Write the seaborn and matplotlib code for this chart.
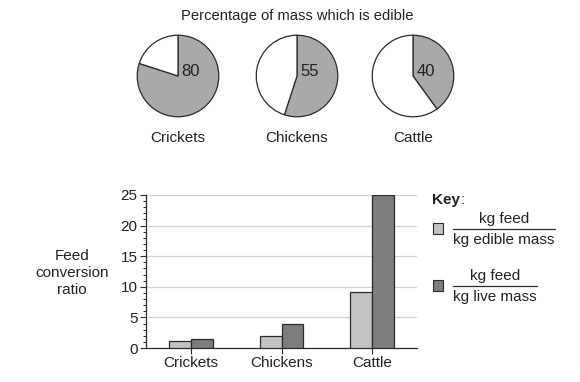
import pandas as pd
import seaborn as sns
from matplotlib import pyplot as plt
from matplotlib.patches import Rectangle
from matplotlib.ticker import MultipleLocator

animals = ["Crickets", "Chickens", "Cattle"]
edible_pct = [80, 55, 40]
ratio_edible = [1.2, 2.0, 9.2]
ratio_live = [1.5, 4.0, 25.0]
series = ["edible", "live"]

light = "#c2c2c6"
dark = "#7c7c80"
pie_grey = "#a9a9ab"
edge = "#2a2a2a"
txt = "#222222"

sns.set_style("white")
plt.rcParams["font.family"] = ["Liberation Sans", "DejaVu Sans"]
plt.rcParams["font.size"] = 11

W, H = 580, 382
fig = plt.figure(figsize=(W / 100, H / 100), dpi=100)

def fx(px):
    return px / W

def fy(py):
    return 1 - py / H

# pies
fig.text(fx(297), fy(16), "Percentage of mass which is edible", ha="center", va="center", fontsize=10.6, color=txt)
centres = [178, 297, 413]
r = 41
for cx, name, pct in zip(centres, animals, edible_pct):
    ax = fig.add_axes([fx(cx - r - 1), fy(76 + r + 1), fx(2 * r + 2), (2 * r + 2) / H])
    ax.pie([pct, 100 - pct], colors=[pie_grey, "white"], startangle=90, counterclock=False,
           wedgeprops=dict(edgecolor=edge, linewidth=0.9))
    ax.set_xlim(-1.03, 1.03)
    ax.set_ylim(-1.03, 1.03)
    ax.text(0.08, 0.1, str(pct), ha="left", va="center", fontsize=12, color=txt)
    fig.text(fx(cx), fy(138), name, ha="center", va="center", fontsize=11, color=txt)

# bars
df = pd.DataFrame({
    "animal": animals * 2,
    "kind": [series[0]] * 3 + [series[1]] * 3,
    "ratio": ratio_edible + ratio_live,
})
bx = fig.add_axes([fx(146), fy(348), fx(417 - 146), (348 - 195) / H])
sns.barplot(data=df, x="animal", y="ratio", hue="kind", palette=[light, dark], width=0.48,
            edgecolor=edge, linewidth=0.9, ax=bx, legend=False, zorder=3)
bx.set_ylim(0, 25)
bx.set_xlim(-0.5, 2.5)
bx.yaxis.set_major_locator(MultipleLocator(5))
bx.yaxis.set_minor_locator(MultipleLocator(1))
bx.grid(axis="y", color="#d2d2d2", linewidth=0.9, zorder=0)
bx.set_axisbelow(True)
for s in ["top", "right"]:
    bx.spines[s].set_visible(False)
for s in ["left", "bottom"]:
    bx.spines[s].set_color(edge)
    bx.spines[s].set_linewidth(0.9)
bx.tick_params(axis="y", which="major", direction="out", length=4, width=0.8, color=edge, left=True,
               labelsize=11, pad=2, labelcolor=txt)
bx.tick_params(axis="y", which="minor", direction="out", length=2, width=0.7, color=edge, left=True)
bx.tick_params(axis="x", direction="out", length=4, width=0.8, color=edge, bottom=True,
               labelsize=11, pad=2, labelcolor=txt)
bx.set_xlabel("")
bx.set_ylabel("")
fig.text(fx(72), fy(273), "Feed\nconversion\nratio", ha="center", va="center", fontsize=11, linespacing=1.25, color=txt)

# key
key = fig.text(fx(432), fy(200), "Key", ha="left", va="center", fontsize=11, fontweight="bold", color=txt)
fig.add_artist(plt.Annotation(":", xy=(1, 0.5), xycoords=key, xytext=(0.5, 0), textcoords="offset points",
                              ha="left", va="center", fontsize=11, color=txt))
for yy, col, bottom_txt, x1 in [(229, light, "kg edible mass", 555), (286, dark, "kg live mass", 537)]:
    fig.patches.append(Rectangle((fx(433), fy(yy + 5)), fx(10), 11 / H, transform=fig.transFigure,
                                 facecolor=col, edgecolor=edge, linewidth=0.8))
    mid = (453 + x1) / 2
    fig.text(fx(mid), fy(yy - 10), "kg feed", ha="center", va="center", fontsize=11, color=txt)
    fig.add_artist(plt.Line2D([fx(453), fx(x1)], [fy(yy), fy(yy)], transform=fig.transFigure, color=edge, linewidth=0.9))
    fig.text(fx(453), fy(yy + 11), bottom_txt, ha="left", va="center", fontsize=11, color=txt)

fig.savefig("out.png", dpi=100)
